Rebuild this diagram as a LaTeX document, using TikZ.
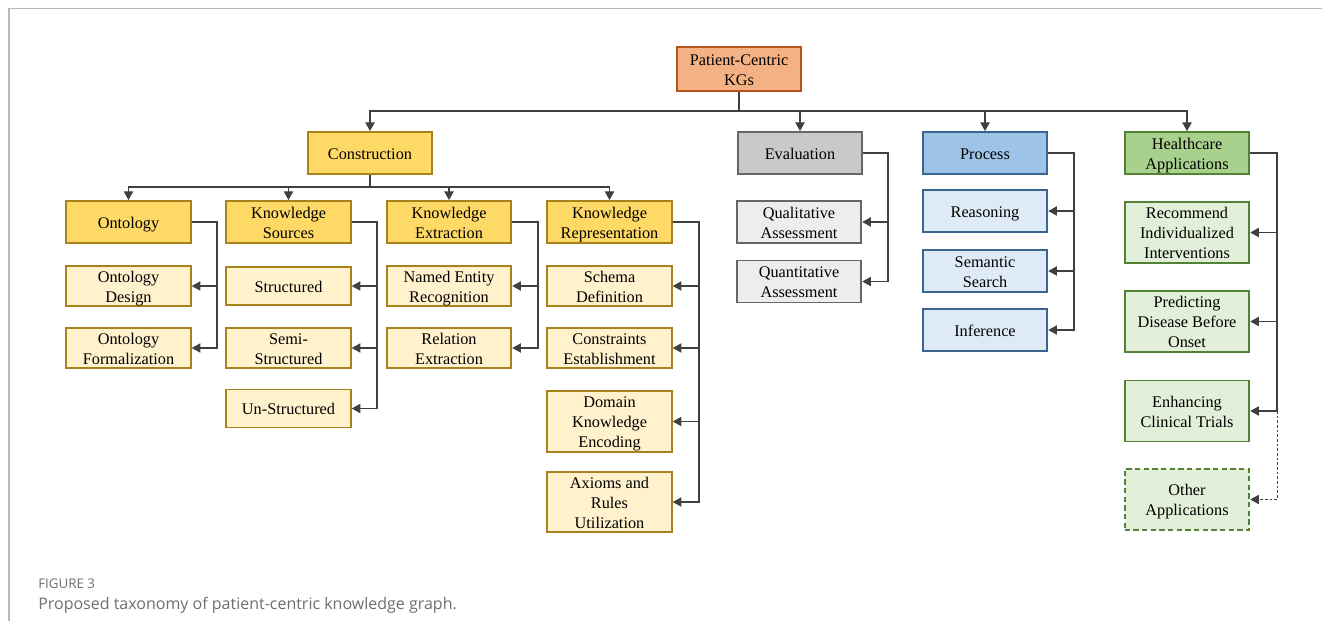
\documentclass[tikz,border=0pt]{standalone}
\usepackage{fontspec}
\setmainfont{Liberation Serif}
\newfontfamily\capfont{Open Sans}
\usetikzlibrary{arrows.meta}
\newcommand{\tstrut}{\rule{0pt}{12pt}}
\definecolor{rootfill}{HTML}{F4B183}
\definecolor{rootdraw}{HTML}{B5541C}
\definecolor{yfill}{HTML}{FFD966}
\definecolor{ylight}{HTML}{FFF2CC}
\definecolor{ydraw}{HTML}{A8821C}
\definecolor{gfill}{HTML}{C9C9C9}
\definecolor{glight}{HTML}{EDEDED}
\definecolor{gdraw}{HTML}{666666}
\definecolor{bfill}{HTML}{9DC3E6}
\definecolor{blight}{HTML}{DEEBF7}
\definecolor{bdraw}{HTML}{3A6592}
\definecolor{hfill}{HTML}{A9D18E}
\definecolor{hlight}{HTML}{E2F0D9}
\definecolor{hdraw}{HTML}{548235}
\definecolor{framecol}{HTML}{B8B8B8}
\definecolor{capcol}{HTML}{6E6E6E}
\definecolor{linecol}{HTML}{404040}
\begin{document}
\begin{tikzpicture}[x=0.75pt,y=-0.75pt,
  box/.style={draw, line width=1.4pt, align=center, inner sep=0pt,
    minimum width=93.5pt, minimum height=31.5pt,
    font=\fontsize{12.2}{15}\selectfont, text=black,
    execute at begin node={\tstrut},
    execute at end node={\rule[-3pt]{0pt}{3pt}}},
  hA/.style={minimum height=28.5pt},
  hB/.style={minimum height=45.75pt},
  hC/.style={minimum height=43.5pt},
  rootbox/.style={box, fill=rootfill, draw=rootdraw, minimum height=33pt},
  ybox/.style={box, fill=yfill, draw=ydraw},
  ylbox/.style={box, fill=ylight, draw=ydraw},
  gbox/.style={box, fill=gfill, draw=gdraw},
  glbox/.style={box, fill=glight, draw=gdraw},
  bbox/.style={box, fill=bfill, draw=bdraw},
  blbox/.style={box, fill=blight, draw=bdraw},
  hbox/.style={box, fill=hfill, draw=hdraw},
  hlbox/.style={box, fill=hlight, draw=hdraw},
  conn/.style={draw=linecol, line width=0.8pt, -{Triangle[length=6.5pt,width=7pt]}},
]
\useasboundingbox (0,0) rectangle (1322,621);
\draw[framecol, line width=1.3pt] (9,621) -- (9,8.5) -- (1322,8.5);

% root and top level
\node[rootbox] (root) at (739,69) {\tstrut Patient-Centric\\KGs};
\node[ybox] (cons) at (370,153) {Construction};
\node[gbox] (eval) at (800,153) {Evaluation};
\node[bbox] (proc) at (985,153) {Process};
\node[hbox] (hc) at (1187,153) {\tstrut Healthcare\\Applications};

% construction second level
\node[ybox] (ont) at (128.5,222) {Ontology};
\node[ybox] (ks) at (288.5,222) {\tstrut Knowledge\\Sources};
\node[ybox] (ke) at (449,222) {\tstrut Knowledge\\Extraction};
\node[ybox] (kr) at (609.5,222) {\tstrut Knowledge\\Representation};

\node[ylbox, hA] (ontd) at (128.5,286) {\tstrut Ontology\\Design};
\node[ylbox, hA] (ontf) at (128.5,348) {\tstrut Ontology\\Formalization};

\node[ylbox, hA] (str) at (288.5,286) {Structured};
\node[ylbox, hA] (semi) at (288.5,348) {\tstrut Semi-\\Structured};
\node[ylbox, hA] (uns) at (288.5,408.5) {Un-Structured};

\node[ylbox, hA] (ner) at (449,286) {\tstrut Named Entity\\Recognition};
\node[ylbox, hA] (rel) at (449,348) {\tstrut Relation\\Extraction};

\node[ylbox, hA] (sch) at (609.5,286) {\tstrut Schema\\Definition};
\node[ylbox, hA] (cst) at (609.5,348) {\tstrut Constraints\\Establishment};
\node[ylbox, hB] (dom) at (609.5,421.5) {\tstrut Domain\\Knowledge\\Encoding};
\node[ylbox, hC] (ax) at (609.5,502) {\tstrut Axioms and\\Rules\\Utilization};

% evaluation
\node[glbox] (qual) at (799,222) {\tstrut Qualitative\\Assessment};
\node[glbox] (quan) at (799,281.5) {\tstrut Quantitative\\Assessment};

% process
\node[blbox] (reas) at (985,211) {Reasoning};
\node[blbox] (sem) at (985,271) {\tstrut Semantic\\Search};
\node[blbox] (inf) at (985,330) {Inference};

% healthcare
\node[hlbox, hB] (rec) at (1187,232.5) {\tstrut Recommend\\Individualized\\Interventions};
\node[hlbox, hB] (pred) at (1187,321.5) {\tstrut Predicting\\Disease Before\\Onset};
\node[hlbox, hB] (enh) at (1187,411) {\tstrut Enhancing\\Clinical Trials};
\node[hlbox, hB, dashed, dash pattern=on 4pt off 2.5pt] (oth) at (1187,499.5) {\tstrut Other\\Applications};

% bus coordinates
\coordinate (topbus) at (739,111);
\coordinate (cbus) at (370,187);
\coordinate (ontx) at (217,0);
\coordinate (ksx) at (377,0);
\coordinate (kex) at (538,0);
\coordinate (krx) at (699,0);
\coordinate (evx) at (888,0);
\coordinate (prx) at (1074,0);
\coordinate (hcx) at (1277,0);

% top connectors
\foreach \t in {cons,eval,proc,hc}
  \draw[conn] (root.south) -- (root.south |- topbus) -| (\t.north);

% construction connectors
\foreach \t in {ont,ks,ke,kr}
  \draw[conn] (cons.south) -- (cons.south |- cbus) -| (\t.north);

% brackets
\foreach \c in {ontd,ontf}
  \draw[conn] (ont.east) -- (ont.east -| ontx) |- (\c.east);
\foreach \c in {str,semi,uns}
  \draw[conn] (ks.east) -- (ks.east -| ksx) |- (\c.east);
\foreach \c in {ner,rel}
  \draw[conn] (ke.east) -- (ke.east -| kex) |- (\c.east);
\foreach \c in {sch,cst,dom,ax}
  \draw[conn] (kr.east) -- (kr.east -| krx) |- (\c.east);
\foreach \c in {qual,quan}
  \draw[conn] (eval.east) -- (eval.east -| evx) |- (\c.east);
\foreach \c in {reas,sem,inf}
  \draw[conn] (proc.east) -- (proc.east -| prx) |- (\c.east);
\foreach \c in {rec,pred,enh}
  \draw[conn] (hc.east) -- (hc.east -| hcx) |- (\c.east);
\draw[conn, line width=0.6pt, dash pattern=on 2pt off 1.5pt] (enh.east -| hcx) |- (oth.east);

% caption
\node[anchor=base west, inner sep=0pt, text=capcol, font=\capfont\fontsize{10}{12}\selectfont] (figlbl) at (38,588) {FIGURE 3};
\node[anchor=base west, inner sep=0pt, text=capcol, font=\capfont\fontsize{12}{14}\selectfont] (figcap) at (38,609) {Proposed taxonomy of patient-centric knowledge graph.};
\end{tikzpicture}
\end{document}
